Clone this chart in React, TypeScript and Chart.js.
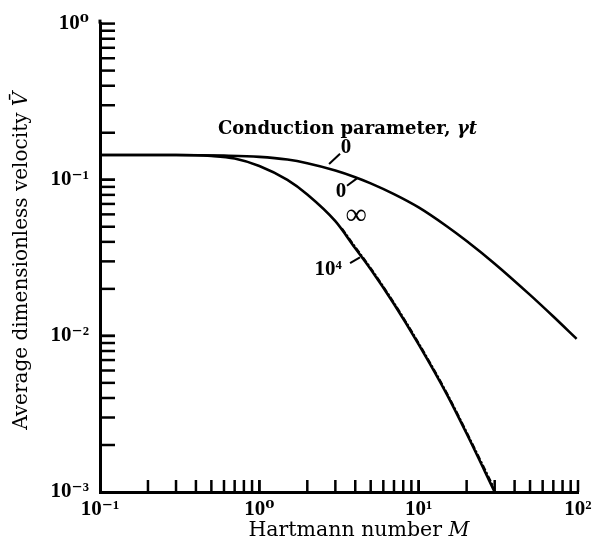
import { useEffect, useRef } from "react";
import { Chart, registerables } from "chart.js";

Chart.register(...registerables);

// ---- data ----
const xTickValues = [0.1, 1, 10, 100];
const xTickLabels = ["10⁻¹", "10⁰", "10¹", "10²"];
const yTickValues = [0.001, 0.01, 0.1, 1];
const yTickLabels = ["10⁻³", "10⁻²", "10⁻¹", "10⁰"];

// gamma t = 0 (insulating walls)
const upperM = [0.1, 0.3, 0.6, 1, 1.5, 2, 3, 4, 5, 7, 10, 15, 20, 30, 50, 70, 98];
const upperV = [0.1439, 0.1439, 0.1426, 0.14, 0.1346, 0.1276, 0.1146, 0.1038, 0.0948, 0.0809, 0.0665, 0.0504, 0.0405, 0.029, 0.0183, 0.0133, 0.00957];

// gamma t = infinity
const lowerM = [0.1, 0.3, 0.5, 0.7, 1, 1.5, 2, 3, 4, 5, 7, 10, 15, 20, 30];
const lowerV = [0.1439, 0.1439, 0.1419, 0.1368, 0.1225, 0.0998, 0.0805, 0.0543, 0.0364, 0.0267, 0.016, 0.00883, 0.00424, 0.00237, 0.001];

// gamma t = 10^4
const tenFourM = [3.3, 4, 5, 7, 10, 15, 20, 30];
const tenFourV = [0.0488, 0.0371, 0.0272, 0.0163, 0.009, 0.00432, 0.00242, 0.00104];

const curveLabels = ["0", "0", "∞", "10⁴"];
const xTitle = ["Hartmann number ", "M"];
const yTitle = ["Average dimensionless velocity ", "V̄"];

// ---- annotation placement (data coordinates) ----
const titleNote = { text: "Conduction parameter, ", italic: "γt", m: 0.55, v: 0.211 };
const labelSpots = [
  { m: 3.5, v: 0.16, lm1: 2.74, lv1: 0.126, lm2: 3.21, lv2: 0.1465 },
  { m: 3.26, v: 0.0839, lm1: 3.55, lv1: 0.0916, lm2: 4.1, lv2: 0.102 },
  { m: 4.05, v: 0.0581, lm1: 0, lv1: 0, lm2: 0, lv2: 0 },
  { m: 2.7, v: 0.0267, lm1: 3.71, lv1: 0.0292, lm2: 4.28, lv2: 0.0318 },
];

const SERIF = "'Liberation Serif', 'DejaVu Serif', serif";
const TITLE_SERIF = "'DejaVu Serif', 'Liberation Serif', serif";

function fmt(values: number[], labels: string[]) {
  return (v: any) => {
    const n = Number(v);
    const i = values.findIndex((t) => Math.abs(t - n) / t < 1e-6);
    return i >= 0 ? labels[i] : "";
  };
}

function drawMixed(ctx: CanvasRenderingContext2D, parts: string[], cx: number, cy: number, size: number) {
  ctx.font = `${size}px ${TITLE_SERIF}`;
  const w1 = ctx.measureText(parts[0]).width;
  ctx.font = `italic ${size}px ${TITLE_SERIF}`;
  const w2 = ctx.measureText(parts[1]).width;
  const start = cx - (w1 + w2) / 2;
  ctx.textAlign = "left";
  ctx.textBaseline = "middle";
  ctx.font = `${size}px ${TITLE_SERIF}`;
  ctx.fillText(parts[0], start, cy);
  ctx.font = `italic ${size}px ${TITLE_SERIF}`;
  ctx.fillText(parts[1], start + w1, cy);
}

const decorPlugin = {
  id: "decor",
  afterDraw(chart: any) {
    const ctx = chart.ctx as CanvasRenderingContext2D;
    const xs = chart.scales.x;
    const ys = chart.scales.y;
    const area = chart.chartArea;
    ctx.save();
    ctx.strokeStyle = "#000";
    ctx.fillStyle = "#000";
    ctx.lineWidth = 2.5;
    ctx.lineCap = "butt";
    // inward ticks on x
    for (let k = -1; k <= 1; k++) {
      for (let m = 1; m <= 10; m++) {
        const val = m * Math.pow(10, k);
        if (val <= 0.1 + 1e-9 || val > 100 + 1e-9) continue;
        const px = xs.getPixelForValue(val);
        ctx.beginPath();
        ctx.moveTo(px, area.bottom);
        ctx.lineTo(px, area.bottom - 12);
        ctx.stroke();
      }
    }
    // inward ticks on y
    for (let k = -3; k <= -1; k++) {
      for (let m = 1; m <= 10; m++) {
        const val = m * Math.pow(10, k);
        if (val <= 0.001 + 1e-12 || val > 1 + 1e-9) continue;
        const py = ys.getPixelForValue(val);
        ctx.beginPath();
        ctx.moveTo(area.left, py);
        ctx.lineTo(area.left + 15, py);
        ctx.stroke();
      }
    }
    // y axis line runs slightly above the top decade
    ctx.lineWidth = 3;
    ctx.beginPath();
    ctx.moveTo(area.left, area.top);
    ctx.lineTo(area.left, area.top - 4);
    ctx.stroke();

    // axis titles
    drawMixed(ctx, xTitle, (area.left + area.right) / 2 + 20, 531, 20.5);
    ctx.save();
    ctx.translate(22, (area.top + area.bottom) / 2 + 3);
    ctx.rotate(-Math.PI / 2);
    drawMixed(ctx, yTitle, 0, 0, 20);
    ctx.restore();

    // heading
    ctx.textBaseline = "middle";
    ctx.textAlign = "left";
    ctx.font = `bold 18px ${TITLE_SERIF}`;
    const hx = xs.getPixelForValue(titleNote.m);
    const hy = ys.getPixelForValue(titleNote.v);
    ctx.fillText(titleNote.text, hx, hy);
    const w = ctx.measureText(titleNote.text).width;
    ctx.font = `italic bold 18px ${TITLE_SERIF}`;
    ctx.fillText(titleNote.italic, hx + w, hy);

    // curve labels
    ctx.lineWidth = 2;
    labelSpots.forEach((s, i) => {
      const lx = xs.getPixelForValue(s.m);
      const ly = ys.getPixelForValue(s.v);
      ctx.textAlign = "center";
      if (curveLabels[i] === "∞") {
        ctx.font = `30px ${SERIF}`;
      } else {
        ctx.font = `bold 21px ${SERIF}`;
      }
      ctx.fillText(curveLabels[i], lx, ly);
      if (s.lm1 > 0) {
        ctx.beginPath();
        ctx.moveTo(xs.getPixelForValue(s.lm1), ys.getPixelForValue(s.lv1));
        ctx.lineTo(xs.getPixelForValue(s.lm2), ys.getPixelForValue(s.lv2));
        ctx.stroke();
      }
    });
    ctx.restore();
  },
};

export default function App() {
  const ref = useRef<HTMLCanvasElement>(null);
  useEffect(() => {
    if (!ref.current) return;
    const chart = new Chart(ref.current, {
      type: "line",
      data: {
        datasets: [
          {
            label: curveLabels[0],
            data: upperM.map((m, i) => ({ x: m, y: upperV[i] })),
            borderColor: "#000",
            borderWidth: 2.6,
            pointRadius: 0,
            cubicInterpolationMode: "monotone",
            fill: false,
          },
          {
            label: curveLabels[2],
            data: lowerM.map((m, i) => ({ x: m, y: lowerV[i] })),
            borderColor: "#000",
            borderWidth: 2.6,
            pointRadius: 0,
            cubicInterpolationMode: "monotone",
            fill: false,
          },
          {
            label: curveLabels[3],
            data: tenFourM.map((m, i) => ({ x: m, y: tenFourV[i] })),
            borderColor: "#000",
            borderWidth: 2,
            borderDash: [6, 2, 2, 2],
            pointRadius: 0,
            cubicInterpolationMode: "monotone",
            fill: false,
          },
        ],
      },
      options: {
        responsive: false,
        animation: false,
        layout: { padding: { top: 21, right: 15, left: 0, bottom: 0 } },
        plugins: { legend: { display: false }, tooltip: { enabled: false } },
        scales: {
          x: {
            type: "logarithmic",
            position: "bottom",
            min: 0.1,
            max: 100,
            grid: { display: false, drawTicks: false },
            border: { display: true, color: "#000", width: 3 },
            afterBuildTicks: (s: any) => {
              s.ticks = xTickValues.map((v) => ({ value: v }));
            },
            afterFit: (s: any) => {
              s.height = 56;
              s.paddingRight = 0;
              s.paddingLeft = 0;
            },
            ticks: {
              autoSkip: false,
              maxRotation: 0,
              padding: 5,
              color: "#000",
              font: { family: SERIF, size: 21, weight: "bold" },
              callback: fmt(xTickValues, xTickLabels),
            },
          },
          y: {
            type: "logarithmic",
            position: "left",
            min: 0.001,
            max: 1,
            grid: { display: false, drawTicks: false },
            border: { display: true, color: "#000", width: 3 },
            afterBuildTicks: (s: any) => {
              s.ticks = yTickValues.map((v) => ({ value: v }));
            },
            afterFit: (s: any) => {
              s.width = 100;
            },
            ticks: {
              autoSkip: false,
              padding: 11,
              color: "#000",
              font: { family: SERIF, size: 21, weight: "bold" },
              callback: fmt(yTickValues, yTickLabels),
            },
          },
        },
      } as any,
      plugins: [decorPlugin],
    });
    return () => chart.destroy();
  }, []);
  return (
    <canvas
      ref={ref}
      width={593}
      height={548}
      style={{ position: "absolute", left: 0, top: 0, background: "#fff" }}
    />
  );
}
